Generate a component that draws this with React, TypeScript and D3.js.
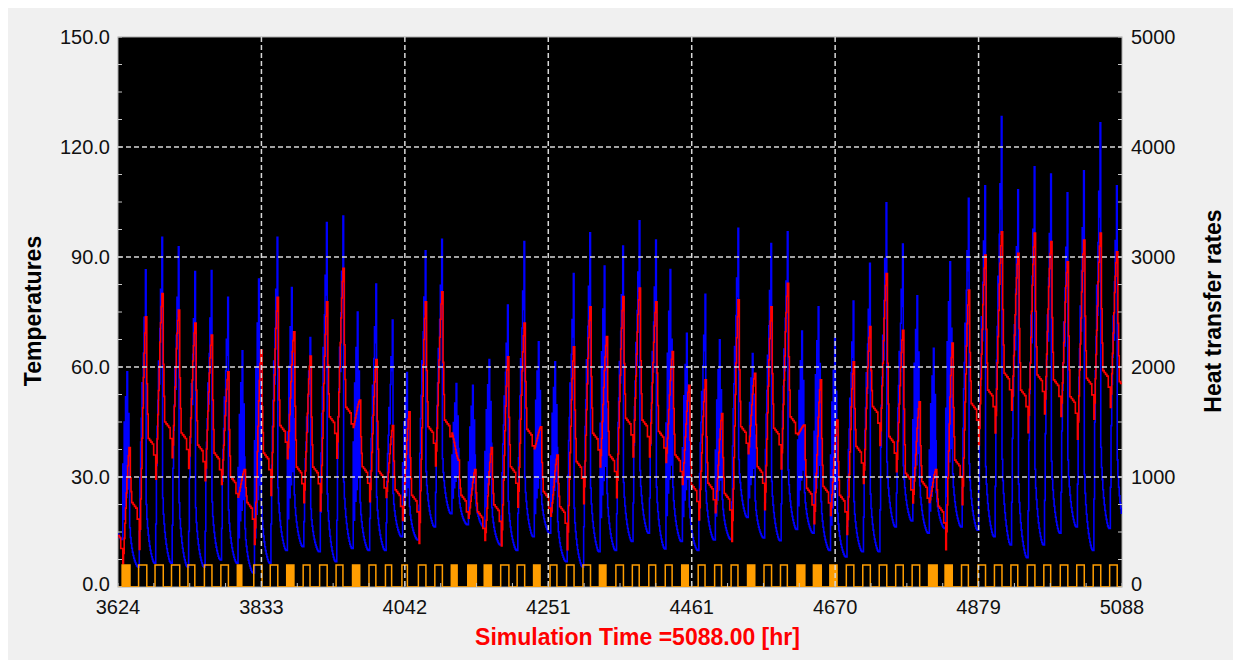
import React from 'react';
import * as d3 from 'd3';

// simulation window [hr]
const T0 = 3624;
const T1 = 5088;

// one value per day (temperatures)
const bluePeak = [58.7, 86.5, 95.4, 92.8, 86, 86.3, 79, 64.4, 84, 95.4,
	81.7, 68, 99.4, 101.2, 75, 82.6, 72.8, 58.5, 91.7, 94.8,
	55.5, 55, 62, 76.9, 94.2, 66.9, 61.4, 85.5, 96.6, 87.5,
	93, 99.9, 94.6, 86.6, 69.2, 79.8, 67.4, 97.8, 63.7, 93.7,
	96.9, 69.8, 76.4, 67.8, 78, 88.3, 104.8, 93.5, 79.4, 65.1,
	88.7, 106, 109.4, 128.3, 108.3, 114.6, 112.6, 107.5, 113.5, 126.6, 109.4];
const blueLow = [13, 5.5, 6.5, 6.5, 5.5, 5.5, 7.4, 6.5, 3.8, 6.5,
	10, 11, 9.6, 6.9, 10.5, 10, 10, 13.7, 12.8, 16.4,
	20, 17, 16.4, 11.5, 10, 13.7, 14.7, 6.9, 5.5, 9.6,
	10, 12.4, 14.7, 10.4, 12.4, 10, 12.8, 13, 19, 13.4,
	12.6, 15.7, 14.7, 10, 8.2, 9.6, 9.6, 16.4, 18, 14.7,
	16, 16.4, 15.5, 13.7, 11.5, 8, 11.5, 14.7, 16.4, 10, 16];
const redPeak = [38, 73.7, 80, 75.5, 72, 68.7, 58.7, 32, 64.6, 79,
	69.6, 63, 77.8, 86.9, 51, 62, 44, 47.8, 77.8, 80.5,
	34.6, 32, 38, 62.8, 72, 43.7, 36, 65.5, 76.4, 68.3,
	79.2, 81.5, 77.8, 64.2, 55, 56.5, 47.3, 78.3, 58.3, 76.4,
	82.8, 44.2, 56.5, 45.5, 61.4, 71, 85.5, 70, 50.5, 32,
	66.5, 81, 90.5, 96.9, 91, 96.5, 94.2, 88.7, 94.6, 96.5, 91.4];
const redEve = [23, 40.5, 45, 42, 38.7, 36.5, 30, 23, 36.5, 44,
	32.7, 32.7, 46.4, 49, 32.8, 31.5, 26.5, 25, 43.7, 45.5,
	25, 20.5, 22.4, 32.8, 43, 26, 21.9, 34.2, 41.9, 36,
	46, 45.5, 42.4, 36, 27.8, 28.3, 25.5, 43.7, 32.8, 43.3,
	46.4, 26.9, 27.4, 25, 38.3, 49.2, 41, 31, 28.7, 22,
	34.6, 50, 53.7, 58.3, 53.7, 57.8, 56.5, 51.9, 56.9, 59, 56];
const redStart = 15;

// pump signal (right axis), hours on per day
const pumpHours = [12, 12, 12, 12, 10, 11, 11, 7, 12, 11,
	11, 10, 11, 10, 11, 10, 9, 8, 11, 11,
	9, 13, 11, 12, 11, 10, 10, 11, 11, 10,
	11, 10, 10, 10, 10, 10, 10, 10, 11, 11,
	10, 12, 12, 11, 11, 11, 11, 11, 11, 13,
	11, 10, 11, 11, 10, 11, 10, 11, 11, 11, 11];
const pumpStart = 6;
const pumpLevel = 200;
const cyclingDays = [0, 7, 10, 14, 20, 21, 22, 25, 29, 34, 38, 41, 42, 43, 49, 50];
const choppyDays = [0, 7, 8, 10, 14, 17, 20, 21, 22, 25, 26, 29, 33, 34, 36, 38, 41, 42, 43, 48, 49, 50];

// shape of a day (fractions), hours 6..16 rising, 17..29 falling
const blueRiseSmooth = [0, 0.12, 0.3, 0.42, 0.5, 0.62, 0.55, 0.72, 0.84, 0.78, 1];
const blueRiseChoppy = [0, 0.45, 0.12, 0.7, 0.2, 0.85, 0.25, 1, 0.3, 0.75, 0.5];
const blueFall = [0.2, 0.15, 0.12, 0.095, 0.075, 0.058, 0.044, 0.032, 0.022, 0.013, 0.006, 0.002, 0];
const redRise = [0, -0.15, -0.05, 0.1, 0.25, 0.4, 0.55, 0.7, 0.82, 0.92, 1];
const redFall = [1, 0.45, 0.2];
// evening plateau drift (degrees below plateau), hours 20..29
const redSag = [0, 0, 0.5, 0.5, 1, 1, 1.5, 1.5, 4.5, 4.5];

const xTickLabels = ['3624', '3833', '4042', '4251', '4461', '4670', '4879', '5088'];
const leftTicks = [0, 30, 60, 90, 120, 150];
const rightTicks = [0, 1000, 2000, 3000, 4000, 5000];

const W = 1233;
const H = 652;
const margin = { left: 110, top: 29 };
const pw = 1004;
const ph = 550;
const font = 'Liberation Sans, Arial, sans-serif';

type Pt = [number, number];

function buildSeries () {
	const blue: Pt[] = [];
	const red: Pt[] = [];
	const pump: Pt[] = [];
	const days = bluePeak.length;
	for (let d = 0; d < days; d++) {
		const t0 = T0 + 24 * d;
		const low = blueLow[d];
		const lowNext = d + 1 < days ? blueLow[d + 1] : blueLow[d];
		const peakPrev = d > 0 ? bluePeak[d - 1] : bluePeak[0];
		const rise = choppyDays.includes(d) ? blueRiseChoppy : blueRiseSmooth;
		const ePrev = d > 0 ? redEve[d - 1] : redStart;
		const morn = ePrev - redSag[redSag.length - 1];
		for (let h = 0; h < 24; h++) {
			let b: number;
			let r: number;
			if (h < 6) b = low + (peakPrev - low) * blueFall[h + 7];
			else if (h <= 16) b = low + (bluePeak[d] - low) * rise[h - 6];
			else b = lowNext + (bluePeak[d] - lowNext) * blueFall[h - 17];

			if (h < 6) r = ePrev - redSag[h + 4];
			else if (h <= 16) r = morn + (redPeak[d] - morn) * redRise[h - 6];
			else if (h <= 19) r = redEve[d] + (redPeak[d] - redEve[d]) * redFall[h - 17];
			else r = redEve[d] - redSag[h - 20];

			blue.push([t0 + h, b]);
			red.push([t0 + h, r]);
		}
		const cycling = cyclingDays.includes(d);
		for (let k = 0; k < 48; k++) {
			const h = k / 2;
			let on = h >= pumpStart && h < pumpStart + pumpHours[d];
			if (on && cycling) on = k % 2 === 0;
			pump.push([t0 + h, on ? pumpLevel : 0]);
		}
	}
	blue.push([T1, blue[blue.length - 1][1]]);
	red.push([T1, red[red.length - 1][1]]);
	pump.push([T1, 0]);
	return { blue, red, pump };
}

export default function App () {
	const x = d3.scaleLinear().domain([T0, T1]).range([0, pw]);
	const yL = d3.scaleLinear().domain([0, 150]).range([ph, 0]);
	const yR = d3.scaleLinear().domain([0, 5000]).range([ph, 0]);

	const { blue, red, pump } = buildSeries();

	const lineL = d3.line<Pt>().x(d => x(d[0])).y(d => yL(d[1])).curve(d3.curveStepAfter);
	const lineR = d3.line<Pt>().x(d => x(d[0])).y(d => yR(d[1])).curve(d3.curveStepAfter);

	const xTickVals = xTickLabels.map((_, i) => T0 + i * (T1 - T0) / (xTickLabels.length - 1));
	const xMinor = d3.range(0, 29).map(i => T0 + i * (T1 - T0) / 28);
	const leftMinor = d3.range(0, 151, 7.5);
	const rightMinor = d3.range(0, 5001, 250);

	const gridColor = '#d8d8d8';
	// labels at the very bottom sit a little higher, as in the original
	const labelDy = (v: number, max: number) => (v === 0 ? 4 : 7) + (v === max ? 0 : 0);

	return (
		<svg width={W} height={H} style={{ display: 'block' }}>
			<rect x={0} y={0} width={W} height={H} fill="#f0f0f0" />
			<defs>
				<clipPath id="plot-clip">
					<rect x={0} y={0} width={pw} height={ph} />
				</clipPath>
			</defs>
			<g transform={`translate(${margin.left},${margin.top})`}>
				<rect x={0} y={0} width={pw} height={ph} fill="#000" stroke="#a8a8a8" strokeWidth={1} />
				<g clipPath="url(#plot-clip)">
					<path d={lineL(blue) || ''} fill="none" stroke="#0000ff" strokeWidth={1.6} />
					<path d={lineL(red) || ''} fill="none" stroke="#ff0000" strokeWidth={1.6} />
					<path d={lineR(pump) || ''} fill="none" stroke="#ff9d00" strokeWidth={1.5} />
				</g>

				{/* grid */}
				{leftTicks.filter(v => v > 0 && v < 150).map(v => (
					<line key={'gh' + v} x1={0} x2={pw} y1={yL(v)} y2={yL(v)}
						stroke={gridColor} strokeWidth={1.5} strokeDasharray="5,3" />
				))}
				{xTickVals.slice(1, -1).map(v => (
					<line key={'gv' + v} x1={x(v)} x2={x(v)} y1={0} y2={ph}
						stroke={gridColor} strokeWidth={1.5} strokeDasharray="5,3" />
				))}

				{/* minor ticks */}
				{leftMinor.map(v => (
					<line key={'lm' + v} x1={0} x2={4} y1={yL(v)} y2={yL(v)} stroke="#c8c8c8" strokeWidth={1} />
				))}
				{rightMinor.map(v => (
					<line key={'rm' + v} x1={pw - 4} x2={pw} y1={yR(v)} y2={yR(v)} stroke="#c8c8c8" strokeWidth={1} />
				))}
				{xMinor.map(v => (
					<line key={'xm' + v} x1={x(v)} x2={x(v)} y1={ph - 4} y2={ph} stroke="#c8c8c8" strokeWidth={1} />
				))}

				{/* tick labels */}
				{leftTicks.map(v => (
					<text key={'lt' + v} x={-8} y={yL(v) + labelDy(v, 150)} textAnchor="end"
						fontFamily={font} fontSize={20} fill="#111">{v.toFixed(1)}</text>
				))}
				{rightTicks.map(v => (
					<text key={'rt' + v} x={pw + 9} y={yR(v) + labelDy(v, 5000)} textAnchor="start"
						fontFamily={font} fontSize={20} fill="#111">{v}</text>
				))}
				{xTickVals.map((v, i) => (
					<text key={'xt' + i} x={x(v)} y={ph + 27} textAnchor="middle"
						fontFamily={font} fontSize={20} fill="#111">{xTickLabels[i]}</text>
				))}
			</g>

			<text transform="translate(25,303) rotate(-90)" textAnchor="middle" dominantBaseline="central"
				fontFamily={font} fontSize={23} fontWeight="bold" fill="#000">Temperatures</text>
			<text transform="translate(1205,303) rotate(-90)" textAnchor="middle" dominantBaseline="central"
				fontFamily={font} fontSize={23} fontWeight="bold" fill="#000">Heat transfer rates</text>
			<text x={629.5} y={637} textAnchor="middle"
				fontFamily={font} fontSize={23} fontWeight="bold" fill="#ff0000">Simulation Time =5088.00 [hr]</text>
		</svg>
	);
}
